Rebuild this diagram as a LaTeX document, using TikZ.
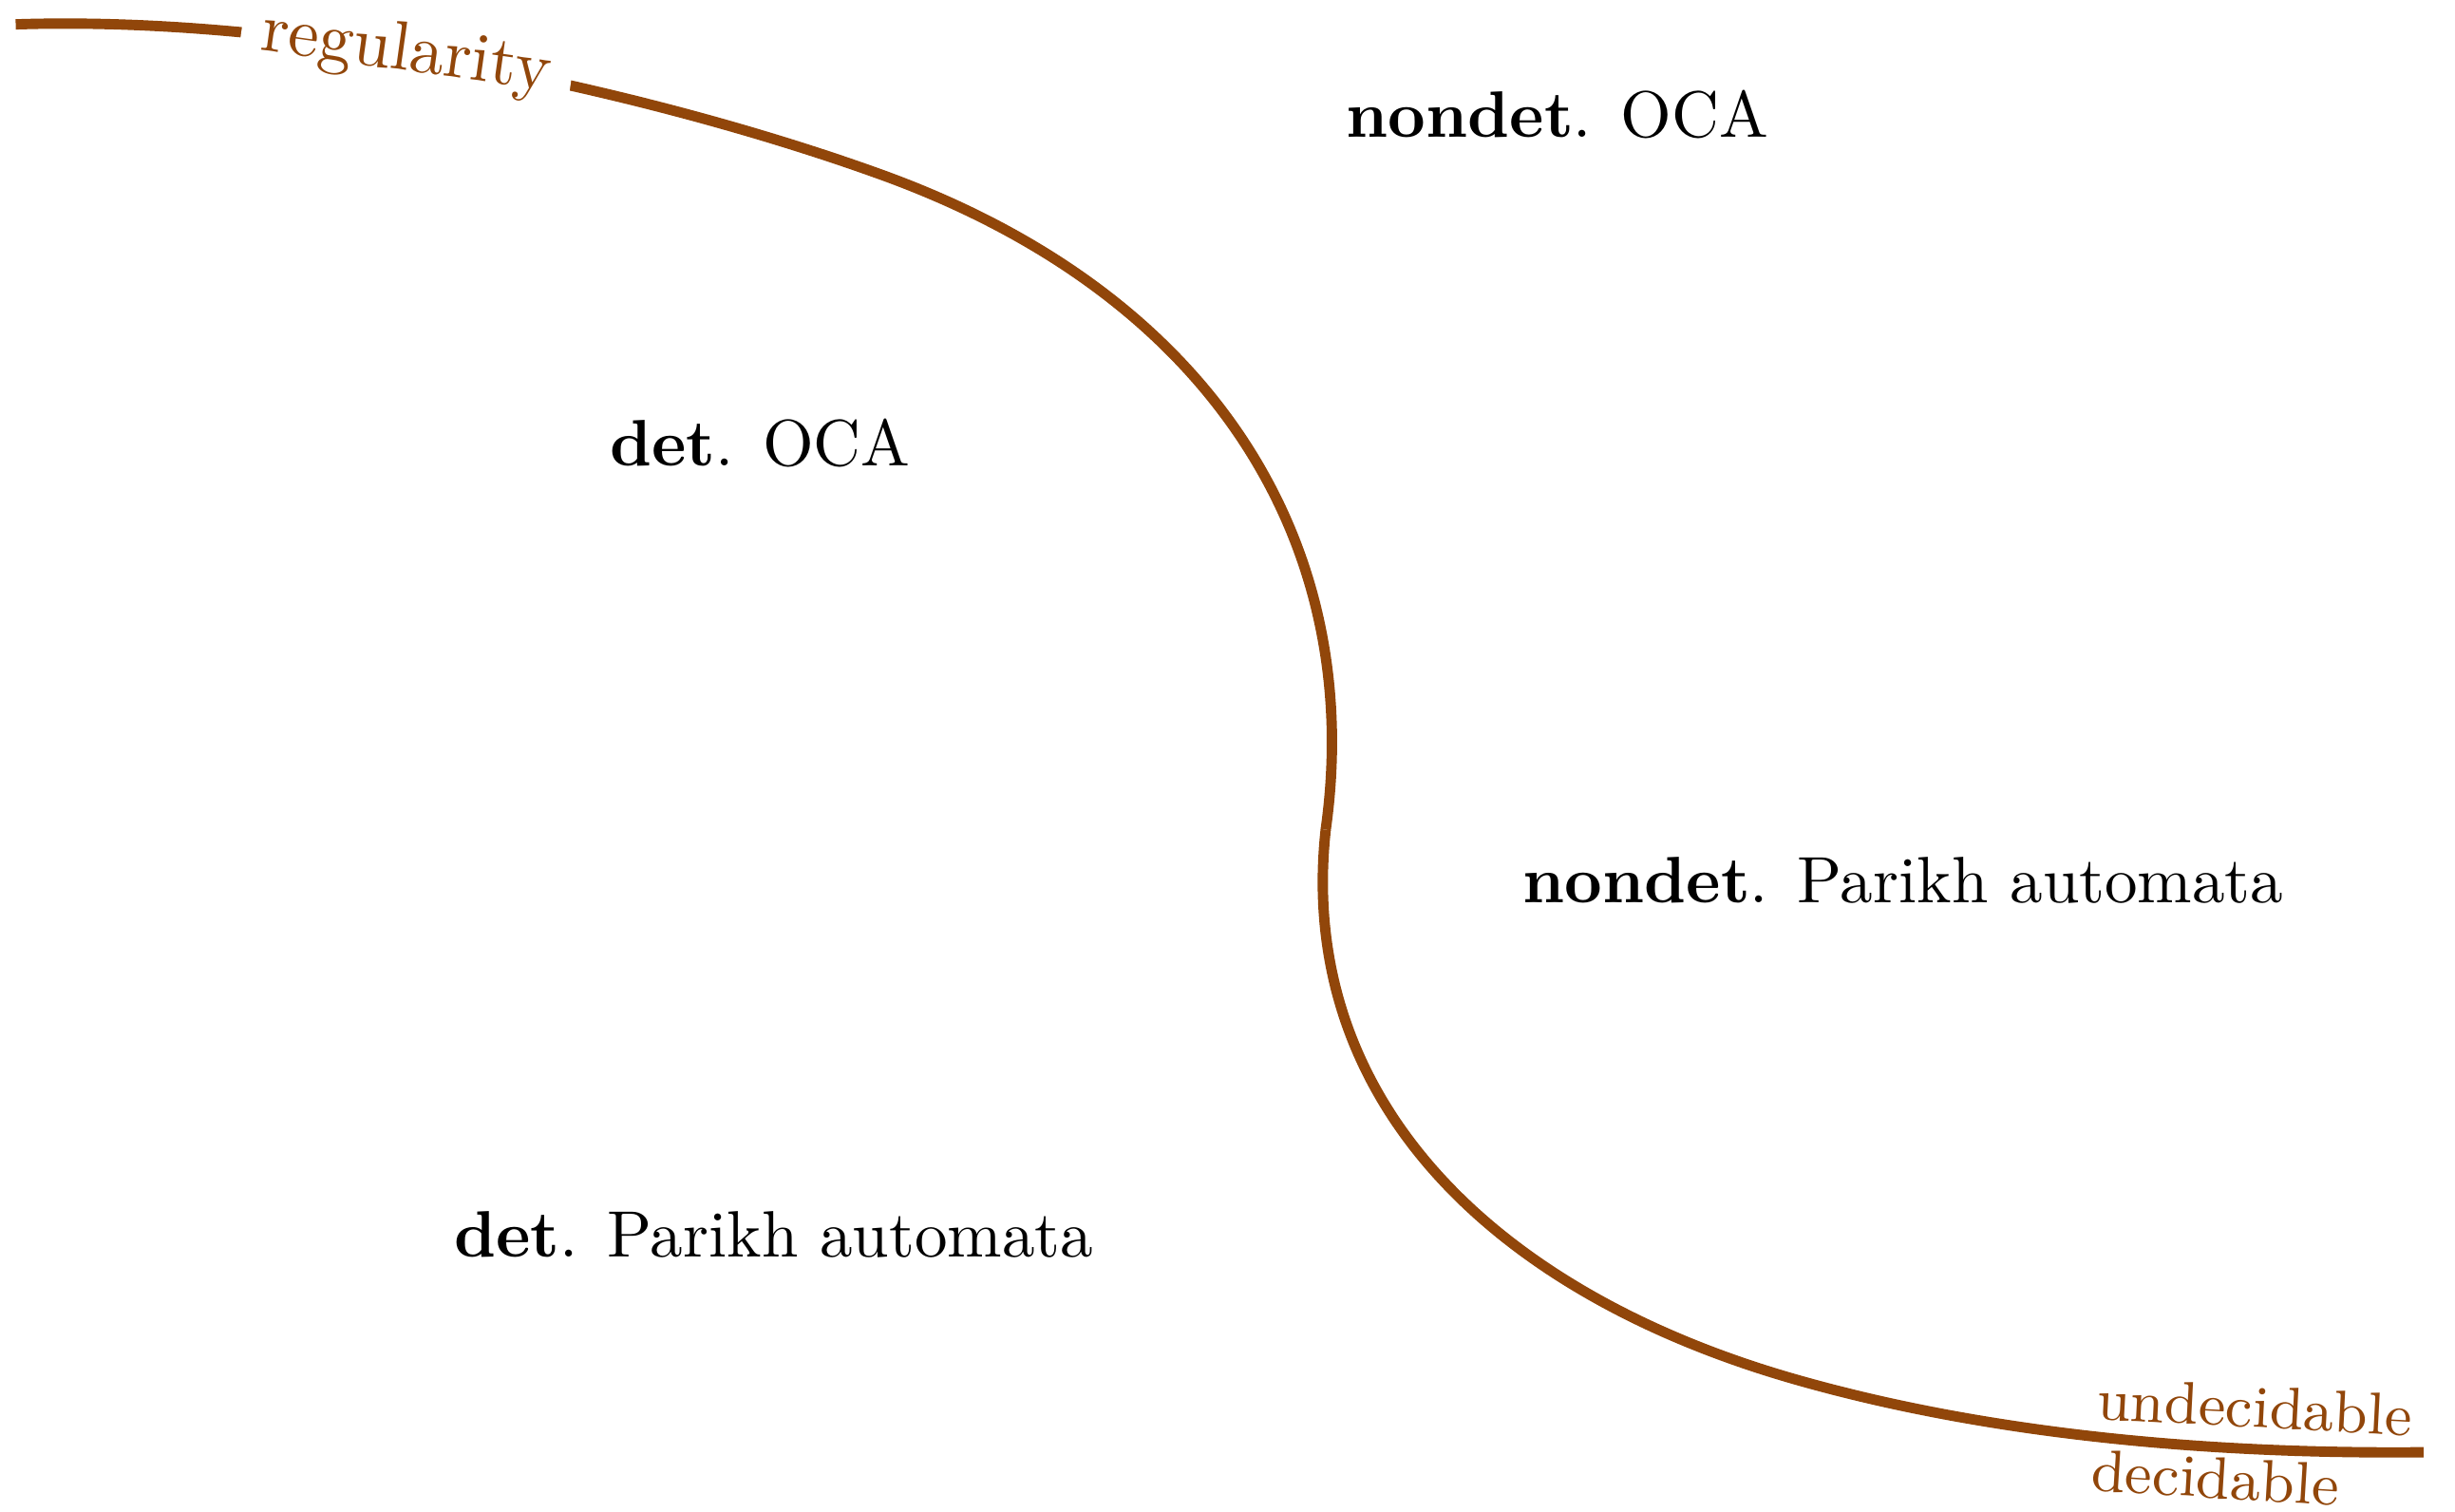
\documentclass[tikz,border=0pt]{standalone}
\usepackage{amsmath}
\usepackage{xcolor}
\usepackage{tikz}
\usetikzlibrary{positioning}
\definecolor{curvebrown}{RGB}{145,70,10}

\begin{document}
\begin{tikzpicture}
\tikzset{class/.style={font=\fontsize{9.5}{11}\selectfont},
         border/.style={color=curvebrown,line width=1.5pt},
         side/.style={text=curvebrown,font=\fontsize{8.6}{10}\selectfont,inner sep=0pt}}
\useasboundingbox (0,0) rectangle (12.5,7.694);

%Border
\coordinate (start) at (0.08,7.57);
\coordinate (kink) at (6.75,3.47);
\coordinate (end) at (12.34,0.30);
\draw[border] (start) .. controls (1.6,7.62) and (3.4,7.2) .. (4.5,6.8)
  .. controls (6.2,6.18) and (6.95,4.9) .. (kink);
\draw[border] (kink) .. controls (6.6,2.1) and (7.6,1.1) .. (9.18,0.66)
  .. controls (10.18,0.38) and (11.3,0.29) .. (end);
\node[fill=white,text=curvebrown,rotate=-8,inner sep=3pt] (regularity) at (2.07,7.42) {regularity};
\node[side,rotate=-3] (undec) at (11.48,0.53) {undecidable};
\node[side,rotate=-3.5] (dec) at (11.28,0.17) {decidable};

%Classes
\node[class] (ndoca) at (7.93,7.11) {\textbf{nondet}. OCA};
\node[class] (doca) at (3.87,5.44) {\textbf{det}. OCA};
\node[class] (ndpa) at (9.69,3.21) {\textbf{nondet}. Parikh automata};
\node[class] (dpa) at (3.94,1.41) {\textbf{det}. Parikh automata};

\end{tikzpicture}
\end{document}
